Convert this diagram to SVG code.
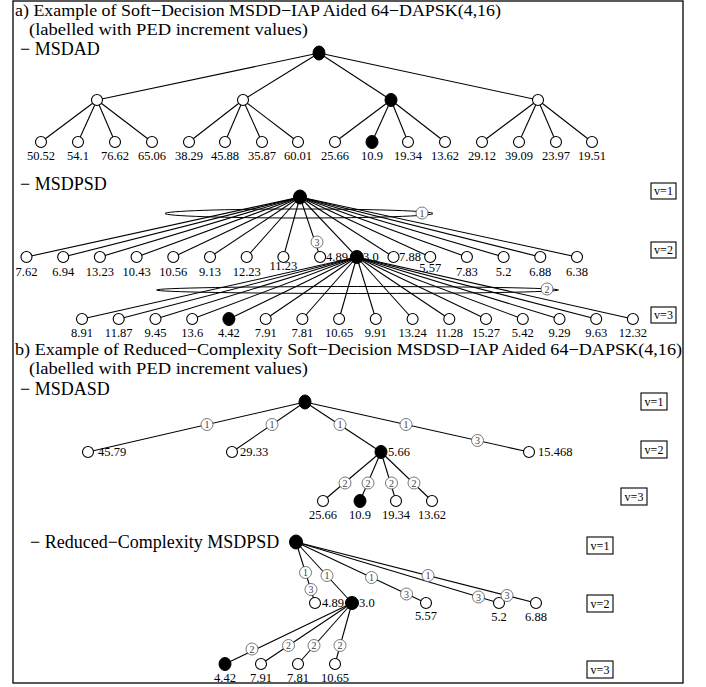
<svg xmlns="http://www.w3.org/2000/svg" width="706" height="687" viewBox="0 0 706 687">
<style>
.e{stroke:#000;stroke-width:1.1;fill:none}
.o{fill:#fff;stroke:#000;stroke-width:1.1}
.f{fill:#000;stroke:#000;stroke-width:1}
.t{font-family:"Liberation Serif",serif;font-size:12.5px;fill:#000}
.m{text-anchor:middle}
.h{font-family:"Liberation Serif",serif;font-size:18px;fill:#000}
.ht{font-family:"Liberation Serif",serif;font-size:16.5px;fill:#000}
.c{fill:#fff;stroke:#555;stroke-width:0.8}
.cn{font-family:"Liberation Serif",serif;font-size:10px;fill:#444;text-anchor:middle}
.vb{fill:#fff;stroke:#000;stroke-width:1.1}
.vt{font-family:"Liberation Serif",serif;font-size:12px;text-anchor:middle}
.lp{fill:none;stroke:#000;stroke-width:1}
</style>
<rect x="13" y="1" width="670" height="682" fill="#fff" stroke="#000" stroke-width="1.3"/>

<g id="titles">
<text class="ht" x="15" y="16" textLength="486" lengthAdjust="spacingAndGlyphs">a) Example of Soft−Decision MSDD−IAP Aided 64−DAPSK(4,16)</text>
<text class="ht" x="29" y="34.5" textLength="279" lengthAdjust="spacingAndGlyphs">(labelled with PED increment values)</text>
<text class="h" x="20" y="54.5">− MSDAD</text>
<text class="h" x="20" y="190">− MSDPSD</text>
<text class="ht" x="15" y="355" textLength="667" lengthAdjust="spacingAndGlyphs">b) Example of Reduced−Complexity Soft−Decision MSDSD−IAP Aided 64−DAPSK(4,16)</text>
<text class="ht" x="29" y="373.5" textLength="279" lengthAdjust="spacingAndGlyphs">(labelled with PED increment values)</text>
<text class="h" x="20" y="395">− MSDASD</text>
<text class="h" x="30" y="548">− Reduced−Complexity MSDPSD</text>
</g>

<g id="connectors" class="e">
<line x1="319" y1="53" x2="97" y2="100"/><line x1="319" y1="53" x2="243" y2="100"/><line x1="319" y1="53" x2="391" y2="100"/><line x1="319" y1="53" x2="538" y2="100"/>
<line x1="97" y1="100" x2="41" y2="142"/><line x1="97" y1="100" x2="78" y2="142"/><line x1="97" y1="100" x2="115" y2="142"/><line x1="97" y1="100" x2="152" y2="142"/>
<line x1="243" y1="100" x2="189" y2="142"/><line x1="243" y1="100" x2="225" y2="142"/><line x1="243" y1="100" x2="262" y2="142"/><line x1="243" y1="100" x2="298" y2="142"/>
<line x1="391" y1="100" x2="335" y2="142"/><line x1="391" y1="100" x2="372" y2="142"/><line x1="391" y1="100" x2="408" y2="142"/><line x1="391" y1="100" x2="445" y2="142"/>
<line x1="538" y1="100" x2="482" y2="142"/><line x1="538" y1="100" x2="519" y2="142"/><line x1="538" y1="100" x2="556" y2="142"/><line x1="538" y1="100" x2="592" y2="142"/>
<line x1="300" y1="197" x2="26.5" y2="257"/><line x1="300" y1="197" x2="63.2" y2="257"/><line x1="300" y1="197" x2="99.9" y2="257"/><line x1="300" y1="197" x2="136.6" y2="257"/>
<line x1="300" y1="197" x2="173.3" y2="257"/><line x1="300" y1="197" x2="210" y2="257"/><line x1="300" y1="197" x2="246.7" y2="257"/><line x1="300" y1="197" x2="283.4" y2="257"/>
<line x1="300" y1="197" x2="320.1" y2="257"/><line x1="300" y1="197" x2="356.8" y2="257"/><line x1="300" y1="197" x2="393.5" y2="257"/><line x1="300" y1="197" x2="430.2" y2="257"/>
<line x1="300" y1="197" x2="466.9" y2="257"/><line x1="300" y1="197" x2="503.6" y2="257"/><line x1="300" y1="197" x2="540.3" y2="257"/><line x1="300" y1="197" x2="577" y2="257"/>
<line x1="356.8" y1="257" x2="82" y2="319"/><line x1="356.8" y1="257" x2="118.7" y2="319"/><line x1="356.8" y1="257" x2="155.5" y2="319"/><line x1="356.8" y1="257" x2="192.2" y2="319"/>
<line x1="356.8" y1="257" x2="228.9" y2="319"/><line x1="356.8" y1="257" x2="265.7" y2="319"/><line x1="356.8" y1="257" x2="302.4" y2="319"/><line x1="356.8" y1="257" x2="339.1" y2="319"/>
<line x1="356.8" y1="257" x2="375.8" y2="319"/><line x1="356.8" y1="257" x2="412.6" y2="319"/><line x1="356.8" y1="257" x2="449.3" y2="319"/><line x1="356.8" y1="257" x2="486" y2="319"/>
<line x1="356.8" y1="257" x2="522.8" y2="319"/><line x1="356.8" y1="257" x2="559.5" y2="319"/><line x1="356.8" y1="257" x2="596.2" y2="319"/><line x1="356.8" y1="257" x2="632.9" y2="319"/>
<line x1="305" y1="402" x2="88" y2="452"/><line x1="305" y1="402" x2="232" y2="452"/><line x1="305" y1="402" x2="381" y2="452"/><line x1="305" y1="402" x2="529" y2="452"/>
<line x1="381" y1="452" x2="323" y2="501"/><line x1="381" y1="452" x2="360" y2="501"/><line x1="381" y1="452" x2="396" y2="501"/><line x1="381" y1="452" x2="432" y2="501"/>
<line x1="296" y1="542" x2="315" y2="603"/><line x1="296" y1="542" x2="352" y2="603"/><line x1="296" y1="542" x2="426" y2="603"/><line x1="296" y1="542" x2="499" y2="603"/><line x1="296" y1="542" x2="536" y2="603"/>
<line x1="352" y1="603" x2="225" y2="664"/><line x1="352" y1="603" x2="261" y2="664"/><line x1="352" y1="603" x2="298" y2="664"/><line x1="352" y1="603" x2="335" y2="664"/>
</g>

<g id="loops">
<ellipse class="lp" cx="299" cy="213.5" rx="134" ry="4.5"/>
<ellipse class="lp" cx="357.5" cy="290" rx="201" ry="3.5"/>
</g>

<g id="msdad-nodes">
<g id="a-root"><ellipse class="f" cx="319" cy="53" rx="6" ry="7"/></g>
<g id="a-l1-1"><circle class="o" cx="97" cy="100" r="5.5"/></g>
<g id="a-l1-2"><circle class="o" cx="243" cy="100" r="5.5"/></g>
<g id="a-l1-3"><ellipse class="f" cx="391" cy="100" rx="6" ry="6.5"/></g>
<g id="a-l1-4"><circle class="o" cx="538" cy="100" r="5.5"/></g>
<g id="a-lf-1"><circle class="o" cx="41" cy="142" r="5.5"/><text class="t m" x="41" y="160">50.52</text></g>
<g id="a-lf-2"><circle class="o" cx="78" cy="142" r="5.5"/><text class="t m" x="78" y="160">54.1</text></g>
<g id="a-lf-3"><circle class="o" cx="115" cy="142" r="5.5"/><text class="t m" x="115" y="160">76.62</text></g>
<g id="a-lf-4"><circle class="o" cx="152" cy="142" r="5.5"/><text class="t m" x="152" y="160">65.06</text></g>
<g id="a-lf-5"><circle class="o" cx="189" cy="142" r="5.5"/><text class="t m" x="189" y="160">38.29</text></g>
<g id="a-lf-6"><circle class="o" cx="225" cy="142" r="5.5"/><text class="t m" x="225" y="160">45.88</text></g>
<g id="a-lf-7"><circle class="o" cx="262" cy="142" r="5.5"/><text class="t m" x="262" y="160">35.87</text></g>
<g id="a-lf-8"><circle class="o" cx="298" cy="142" r="5.5"/><text class="t m" x="298" y="160">60.01</text></g>
<g id="a-lf-9"><circle class="o" cx="335" cy="142" r="5.5"/><text class="t m" x="335" y="160">25.66</text></g>
<g id="a-lf-10"><ellipse class="f" cx="372" cy="142" rx="6" ry="6.5"/><text class="t m" x="372" y="160">10.9</text></g>
<g id="a-lf-11"><circle class="o" cx="408" cy="142" r="5.5"/><text class="t m" x="408" y="160">19.34</text></g>
<g id="a-lf-12"><circle class="o" cx="445" cy="142" r="5.5"/><text class="t m" x="445" y="160">13.62</text></g>
<g id="a-lf-13"><circle class="o" cx="482" cy="142" r="5.5"/><text class="t m" x="482" y="160">29.12</text></g>
<g id="a-lf-14"><circle class="o" cx="519" cy="142" r="5.5"/><text class="t m" x="519" y="160">39.09</text></g>
<g id="a-lf-15"><circle class="o" cx="556" cy="142" r="5.5"/><text class="t m" x="556" y="160">23.97</text></g>
<g id="a-lf-16"><circle class="o" cx="592" cy="142" r="5.5"/><text class="t m" x="592" y="160">19.51</text></g>
</g>

<g id="msdpsd-nodes">
<g id="p-root"><ellipse class="f" cx="300" cy="197" rx="6.5" ry="7"/></g>
<g id="p-l2-1"><circle class="o" cx="26.5" cy="257" r="5.5"/><text class="t m" x="26.5" y="276">7.62</text></g>
<g id="p-l2-2"><circle class="o" cx="63.2" cy="257" r="5.5"/><text class="t m" x="63.2" y="276">6.94</text></g>
<g id="p-l2-3"><circle class="o" cx="99.9" cy="257" r="5.5"/><text class="t m" x="99.9" y="276">13.23</text></g>
<g id="p-l2-4"><circle class="o" cx="136.6" cy="257" r="5.5"/><text class="t m" x="136.6" y="276">10.43</text></g>
<g id="p-l2-5"><circle class="o" cx="173.3" cy="257" r="5.5"/><text class="t m" x="173.3" y="276">10.56</text></g>
<g id="p-l2-6"><circle class="o" cx="210" cy="257" r="5.5"/><text class="t m" x="210" y="276">9.13</text></g>
<g id="p-l2-7"><circle class="o" cx="246.7" cy="257" r="5.5"/><text class="t m" x="246.7" y="276">12.23</text></g>
<g id="p-l2-8"><circle class="o" cx="283.4" cy="257" r="5.5"/><text class="t m" x="283.4" y="270">11.23</text></g>
<g id="p-l2-9"><circle class="o" cx="320.1" cy="257" r="5.5"/><text class="t" x="326" y="261">4.89</text></g>
<g id="p-l2-10"><ellipse class="f" cx="356.8" cy="257" rx="6.5" ry="6.5"/><text class="t" x="363" y="261">3.0</text></g>
<g id="p-l2-11"><circle class="o" cx="393.5" cy="257" r="5.5"/><text class="t" x="399" y="261">7.88</text></g>
<g id="p-l2-12"><circle class="o" cx="430.2" cy="257" r="5.5"/><text class="t m" x="430.2" y="272">5.57</text></g>
<g id="p-l2-13"><circle class="o" cx="466.9" cy="257" r="5.5"/><text class="t m" x="466.9" y="276">7.83</text></g>
<g id="p-l2-14"><circle class="o" cx="503.6" cy="257" r="5.5"/><text class="t m" x="503.6" y="276">5.2</text></g>
<g id="p-l2-15"><circle class="o" cx="540.3" cy="257" r="5.5"/><text class="t m" x="540.3" y="276">6.88</text></g>
<g id="p-l2-16"><circle class="o" cx="577" cy="257" r="5.5"/><text class="t m" x="577" y="276">6.38</text></g>
<g id="p-l3-1"><circle class="o" cx="82" cy="319" r="5.5"/><text class="t m" x="82" y="337">8.91</text></g>
<g id="p-l3-2"><circle class="o" cx="118.7" cy="319" r="5.5"/><text class="t m" x="118.7" y="337">11.87</text></g>
<g id="p-l3-3"><circle class="o" cx="155.5" cy="319" r="5.5"/><text class="t m" x="155.5" y="337">9.45</text></g>
<g id="p-l3-4"><circle class="o" cx="192.2" cy="319" r="5.5"/><text class="t m" x="192.2" y="337">13.6</text></g>
<g id="p-l3-5"><ellipse class="f" cx="228.9" cy="319" rx="6" ry="6.5"/><text class="t m" x="228.9" y="337">4.42</text></g>
<g id="p-l3-6"><circle class="o" cx="265.7" cy="319" r="5.5"/><text class="t m" x="265.7" y="337">7.91</text></g>
<g id="p-l3-7"><circle class="o" cx="302.4" cy="319" r="5.5"/><text class="t m" x="302.4" y="337">7.81</text></g>
<g id="p-l3-8"><circle class="o" cx="339.1" cy="319" r="5.5"/><text class="t m" x="339.1" y="337">10.65</text></g>
<g id="p-l3-9"><circle class="o" cx="375.8" cy="319" r="5.5"/><text class="t m" x="375.8" y="337">9.91</text></g>
<g id="p-l3-10"><circle class="o" cx="412.6" cy="319" r="5.5"/><text class="t m" x="412.6" y="337">13.24</text></g>
<g id="p-l3-11"><circle class="o" cx="449.3" cy="319" r="5.5"/><text class="t m" x="449.3" y="337">11.28</text></g>
<g id="p-l3-12"><circle class="o" cx="486" cy="319" r="5.5"/><text class="t m" x="486" y="337">15.27</text></g>
<g id="p-l3-13"><circle class="o" cx="522.8" cy="319" r="5.5"/><text class="t m" x="522.8" y="337">5.42</text></g>
<g id="p-l3-14"><circle class="o" cx="559.5" cy="319" r="5.5"/><text class="t m" x="559.5" y="337">9.29</text></g>
<g id="p-l3-15"><circle class="o" cx="596.2" cy="319" r="5.5"/><text class="t m" x="596.2" y="337">9.63</text></g>
<g id="p-l3-16"><circle class="o" cx="632.9" cy="319" r="5.5"/><text class="t m" x="632.9" y="337">12.32</text></g>
<g id="p-c1"><circle class="c" cx="422" cy="213" r="6"/><text class="cn" x="422" y="216.5">1</text></g>
<g id="p-c3"><circle class="c" cx="317" cy="242" r="6"/><text class="cn" x="317" y="245.5">3</text></g>
<g id="p-c2"><circle class="c" cx="547" cy="289" r="6"/><text class="cn" x="547" y="292.5">2</text></g>
</g>

<g id="msdasd-nodes">
<g id="b-root"><ellipse class="f" cx="305" cy="402" rx="6" ry="7"/></g>
<g id="b-l2-1"><circle class="o" cx="88" cy="452" r="5.5"/><text class="t" x="98" y="456">45.79</text></g>
<g id="b-l2-2"><circle class="o" cx="232" cy="452" r="5.5"/><text class="t" x="240" y="456">29.33</text></g>
<g id="b-l2-3"><ellipse class="f" cx="381" cy="452" rx="6" ry="6.5"/><text class="t" x="388" y="456">5.66</text></g>
<g id="b-l2-4"><circle class="o" cx="529" cy="452" r="5.5"/><text class="t" x="538" y="456">15.468</text></g>
<g id="b-l3-1"><circle class="o" cx="323" cy="501" r="5.5"/><text class="t m" x="323" y="519">25.66</text></g>
<g id="b-l3-2"><ellipse class="f" cx="360" cy="501" rx="6" ry="6.5"/><text class="t m" x="360" y="519">10.9</text></g>
<g id="b-l3-3"><circle class="o" cx="396" cy="501" r="5.5"/><text class="t m" x="396" y="519">19.34</text></g>
<g id="b-l3-4"><circle class="o" cx="432" cy="501" r="5.5"/><text class="t m" x="432" y="519">13.62</text></g>
<g id="b-c1"><circle class="c" cx="207" cy="424.5" r="6"/><text class="cn" x="207" y="428">1</text></g>
<g id="b-c2"><circle class="c" cx="272" cy="424.5" r="6"/><text class="cn" x="272" y="428">1</text></g>
<g id="b-c3"><circle class="c" cx="340" cy="424.5" r="6"/><text class="cn" x="340" y="428">1</text></g>
<g id="b-c4"><circle class="c" cx="406" cy="424.5" r="6"/><text class="cn" x="406" y="428">1</text></g>
<g id="b-c5"><circle class="c" cx="477.5" cy="440.5" r="6"/><text class="cn" x="477.5" y="444">3</text></g>
<g id="b-c6"><circle class="c" cx="345" cy="483" r="6"/><text class="cn" x="345" y="486.5">2</text></g>
<g id="b-c7"><circle class="c" cx="368" cy="483" r="6"/><text class="cn" x="368" y="486.5">2</text></g>
<g id="b-c8"><circle class="c" cx="391.5" cy="483" r="6"/><text class="cn" x="391.5" y="486.5">2</text></g>
<g id="b-c9"><circle class="c" cx="414" cy="483" r="6"/><text class="cn" x="414" y="486.5">2</text></g>
</g>

<g id="reduced-nodes">
<g id="r-root"><ellipse class="f" cx="296" cy="542" rx="6.5" ry="7"/></g>
<g id="r-l2-1"><circle class="o" cx="315" cy="603" r="5.5"/><text class="t" x="322" y="607">4.89</text></g>
<g id="r-l2-2"><ellipse class="f" cx="352" cy="603" rx="6.5" ry="6.5"/><text class="t" x="359" y="607">3.0</text></g>
<g id="r-l2-3"><circle class="o" cx="426" cy="603" r="5.5"/><text class="t m" x="426" y="620">5.57</text></g>
<g id="r-l2-4"><circle class="o" cx="499" cy="603" r="5.5"/><text class="t m" x="499" y="621">5.2</text></g>
<g id="r-l2-5"><circle class="o" cx="536" cy="603" r="5.5"/><text class="t m" x="536" y="621">6.88</text></g>
<g id="r-l3-1"><ellipse class="f" cx="225" cy="664" rx="6" ry="6.5"/><text class="t m" x="225" y="682">4.42</text></g>
<g id="r-l3-2"><circle class="o" cx="261" cy="664" r="5.5"/><text class="t m" x="261" y="682">7.91</text></g>
<g id="r-l3-3"><circle class="o" cx="298" cy="664" r="5.5"/><text class="t m" x="298" y="682">7.81</text></g>
<g id="r-l3-4"><circle class="o" cx="335" cy="664" r="5.5"/><text class="t m" x="335" y="682">10.65</text></g>
<g id="r-c1"><circle class="c" cx="305.5" cy="572.5" r="6"/><text class="cn" x="305.5" y="576">1</text></g>
<g id="r-c2"><circle class="c" cx="311" cy="589.5" r="6"/><text class="cn" x="311" y="593">3</text></g>
<g id="r-c3"><circle class="c" cx="327" cy="575.5" r="6"/><text class="cn" x="327" y="579">1</text></g>
<g id="r-c4"><circle class="c" cx="371.5" cy="577.5" r="6"/><text class="cn" x="371.5" y="581">1</text></g>
<g id="r-c5"><circle class="c" cx="406.5" cy="594" r="6"/><text class="cn" x="406.5" y="597.5">3</text></g>
<g id="r-c6"><circle class="c" cx="428" cy="575.5" r="6"/><text class="cn" x="428" y="579">1</text></g>
<g id="r-c7"><circle class="c" cx="478.5" cy="597" r="6"/><text class="cn" x="478.5" y="600.5">3</text></g>
<g id="r-c8"><circle class="c" cx="507" cy="595.5" r="6"/><text class="cn" x="507" y="599">3</text></g>
<g id="r-c9"><circle class="c" cx="252" cy="649" r="6"/><text class="cn" x="252" y="652.5">2</text></g>
<g id="r-c10"><circle class="c" cx="288.5" cy="645.5" r="6"/><text class="cn" x="288.5" y="649">2</text></g>
<g id="r-c11"><circle class="c" cx="314" cy="645.5" r="6"/><text class="cn" x="314" y="649">2</text></g>
<g id="r-c12"><circle class="c" cx="340" cy="645.5" r="6"/><text class="cn" x="340" y="649">2</text></g>
</g>

<g id="level-boxes">
<g id="va1"><rect class="vb" x="651" y="183" width="25" height="16"/><text class="vt" x="663.5" y="195">v=1</text></g>
<g id="va2"><rect class="vb" x="651" y="242" width="25" height="16"/><text class="vt" x="663.5" y="254">v=2</text></g>
<g id="va3"><rect class="vb" x="651" y="307" width="25" height="16"/><text class="vt" x="663.5" y="319">v=3</text></g>
<g id="vb1"><rect class="vb" x="641" y="393" width="26" height="17"/><text class="vt" x="654" y="405.5">v=1</text></g>
<g id="vb2"><rect class="vb" x="641" y="441" width="26" height="17"/><text class="vt" x="654" y="453.5">v=2</text></g>
<g id="vb3"><rect class="vb" x="621" y="488" width="26" height="17"/><text class="vt" x="634" y="500.5">v=3</text></g>
<g id="vc1"><rect class="vb" x="587" y="537" width="26" height="17"/><text class="vt" x="600" y="549.5">v=1</text></g>
<g id="vc2"><rect class="vb" x="587" y="595" width="26" height="17"/><text class="vt" x="600" y="607.5">v=2</text></g>
<g id="vc3"><rect class="vb" x="587" y="661" width="26" height="17"/><text class="vt" x="600" y="673.5">v=3</text></g>
</g>
</svg>
